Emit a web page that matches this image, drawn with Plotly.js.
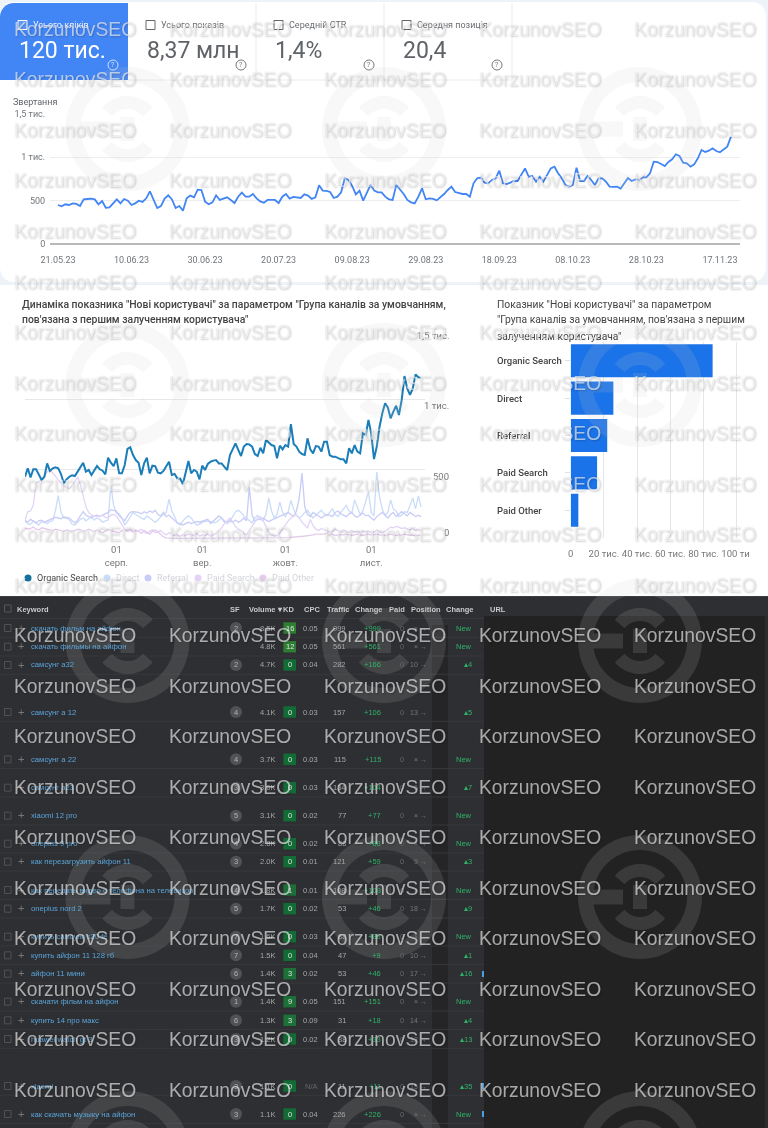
<!DOCTYPE html>
<html><head><meta charset="utf-8">
<script src="https://cdn.plot.ly/plotly-3.0.0.min.js"></script>
<style>html,body{margin:0;padding:0;background:#fff;overflow:hidden}#chart{width:768px;height:1128px;filter:blur(0.35px)}</style>
</head><body><div id="chart"></div>
<script>
// ---------- data ----------
const clicksStart = '2023-05-21';
const clicks = [450,435,458,450,469,462,438,515,519,523,515,458,496,419,423,469,515,469,519,500,450,469,500,485,527,608,515,415,438,523,562,515,415,438,385,527,558,539,627,623,489,458,481,562,508,527,539,508,473,546,592,546,546,577,527,492,477,508,508,508,473,
546,577,523,543,535,531,573,558,520,539,677,616,612,600,531,546,596,758,739,670,573,616,500,585,681,616,596,596,546,516,508,681,631,577,508,481,469,546,643,516,527,520,504,539,577,623,662,600,585,577,577,546,700,758,766,708,700,739,758,846,
700,692,708,727,727,796,873,777,785,719,777,719,796,873,892,816,758,681,662,681,881,727,727,785,739,681,758,758,719,662,658,662,639,700,762,727,746,739,769,769,816,950,946,923,900,946,977,1035,1015,939,931,892,919,989,1085,1062,1077,1104,1073,1058,1096,1123,1239];
const clickTickVals = ['2023-05-21','2023-06-10','2023-06-30','2023-07-20','2023-08-09','2023-08-29','2023-09-18','2023-10-08','2023-10-28','2023-11-17'];
const clickYTicks = [0,500,1000,1500];
const clickYLabels = ['0','500','1 тис.','1,5 тис.'];
const kpiLabels = ['Усього кліків','Усього показів','Середній CTR','Середня позиція'];
const kpiValues = ['120 тис.','8,37 млн','1,4%','20,4'];

const usersStart = '2023-06-29';
const organic = [445,505,440,498,498,462,421,445,540,486,505,512,505,464,398,426,445,455,450,481,510,545,481,493,457,493,521,498,488,462,581,545,521,576,469,469,529,643,655,600,564,545,457,540,581,469,524,521,474,469,486,520,552,457,464,433,433,391,469,557,469,493,481,426,524,493,536,552,560,564,540,540,515,493,600,636,683,636,593,660,679,676,660,607,593,652,612,707,688,671,664,576,667,640,671,660,821,679,660,624,607,600,719,640,612,664,660,624,695,695,600,588,588,580,569,569,540,648,612,671,624,612,755,743,850,755,571,660,802,898,969,940,862,910,952,886,993,1164,1076,1029,1076,1176,1155,1152];
const direct = [130,110,105,130,115,100,125,120,110,125,130,205,310,190,150,150,135,105,100,120,140,150,130,145,160,135,150,140,120,130,135,385,240,185,180,150,100,125,160,190,175,160,150,140,165,150,135,120,135,160,175,190,285,200,160,115,100,130,150,165,150,120,100,105,120,125,130,125,115,120,135,150,130,110,125,160,195,205,190,165,150,130,115,150,170,140,130,180,293,200,150,175,264,190,160,195,275,215,170,150,165,190,205,175,150,170,190,205,180,165,190,215,175,160,190,215,240,200,185,279,230,175,200,260,336,190,165,479,300,210,170,190,279,215,200,160,170,195,190,240,293,215,307,230];
const referral = [135,120,140,125,115,130,135,120,130,140,150,155,150,145,160,155,150,130,115,135,170,195,170,160,150,165,170,160,170,175,190,210,205,200,165,150,130,165,190,195,195,190,180,195,185,200,190,205,175,165,190,160,170,150,130,115,110,100,110,120,110,120,125,120,125,135,140,110,130,150,165,150,120,125,130,120,135,120,130,150,130,371,170,130,135,140,150,135,125,135,145,150,160,170,185,190,175,160,200,290,471,230,175,160,190,175,165,150,165,175,170,160,190,200,180,170,160,180,190,165,155,170,185,165,170,150,135,160,175,190,170,150,175,190,160,175,195,180,165,190,175,160,170,160];
const paidSearch = [135,195,200,240,400,410,430,450,480,493,470,450,421,400,380,370,360,380,410,443,390,300,230,190,170,165,160,165,170,155,150,170,175,165,130,100,70,60,70,60,55,60,70,50,40,55,65,45,50,60,40,30,45,35,25,30,20,30,25,35,30,25,40,20,30,25,35,20,30,40,60,80,110,130,150,120,90,70,60,40,30,60,90,120,150,160,130,90,50,30,20,25,40,70,100,130,150,165,170,150,120,100,80,140,95,70,60,75,65,60,50,55,70,60,50,65,55,45,60,50,55,45,60,50,55,45,50,65,55,45,55,70,85,80,90,85,75,80,70,65,80,60,70,55];
const paidOther = [80,70,75,85,70,65,80,75,70,65,60,70,65,60,55,65,60,55,60,70,65,55,60,70,60,55,65,50,45,60,70,60,55,50,45,60,70,55,60,50,65,55,40,60,50,35,55,65,50,30,15,8,5,5,5,5,5,5,5,5,5,5,8,5,5,5,5,5,8,5,5,5,5,8,5,5,5,5,5,5,5,8,5,5,8,5,8,5,5,5,5,8,8,10,10,10,12,15,15,18,18,20,22,25,30,35,35,30,35,40,30,35,25,30,28,30,35,30,25,30,35,30,25,30,35,28,30,35,30,28,25,30,35,30,25,30,28,35,30,25,30,25,28,25];
const seriesNames = ['Organic Search','Direct','Referral','Paid Search','Paid Other'];
const seriesColors = ['#1b7eb9','#c9dcf9','#c9ccf6','#e4d3f6','#e4cbee'];
const usersTickVals = ['2023-08-01','2023-09-01','2023-10-01','2023-11-01'];
const usersTickText = ['01<br>серп.','01<br>вер.','01<br>жовт.','01<br>лист.'];
const channelUsers = [85500,25700,22000,15900,4600];
const barTicks = [0,20000,40000,60000,80000,100000];
const barTickText = ['0','20 тис.','40 тис.','60 тис.','80 тис.','100 ти&nbsp;'];

const tableHeader = ['Keyword','SF','Volume ▾','KD','CPC','Traffic','Change','Paid','Position','Change','URL'];
const keywords = ['скачать фильм на айфон','скачать фильмы на айфон','самсунг а32','самсунг а 12','самсунг а 22','самсунг а23','xiaomi 12 pro','oneplus 9 pro','как перезагрузить айфон 11','как передать видео с телефона на телевизор','oneplus nord 2','купить самсунг s20 fe','купить айфон 11 128 гб','айфон 11 мини','скачати фільм на айфон','купить 14 про макс','huawei watch gt 3','xiaomi','как скачать музыку на айфон'];
const sf = ['2','','2','4','4','3','5','4','3','4','5','7','7','6','1','6','3','3','3'];
const volume = ['8.5K','4.8K','4.7K','4.1K','3.7K','3.6K','3.1K','2.8K','2.0K','1.8K','1.7K','1.6K','1.5K','1.4K','1.4K','1.3K','1.2K','1.1K','1.1K'];
const kd = [16,12,0,0,0,0,0,0,0,1,0,0,0,3,9,3,0,0,0];
const cpc = ['0.05','0.05','0.04','0.03','0.03','0.03','0.02','0.02','0.01','0.01','0.02','0.03','0.04','0.02','0.05','0.09','0.02','N/A','0.04'];
const traffic = ['999','561','282','157','115','134','77','88','121','108','53','88','47','53','151','31','38','11','226'];
const trafficChange = ['+999','+561','+166','+106','+115','+104','+77','+88','+59','+108','+46','+88','+9','+46','+151','+18','+33','+11','+226'];
const position = ['× →','× →','10 →','13 →','× →','6 →','× →','× →','9 →','× →','18 →','× →','10 →','17 →','× →','14 →','12 →','15 →','× →'];
const posChange = ['New','New','▴4','▴5','New','▴7','New','New','▴3','New','▴9','New','▴1','▴16','New','▴4','▴13','▴35','New'];
const rowY = [628,646.7,665,712,759.3,787.7,815.7,843.7,861.7,890,908.7,936.7,955.3,973.7,1001.7,1020.3,1039,1086,1114];

// ---------- helpers ----------
const W=768,H=1128;
const px=x=>x/W, py=y=>1-y/H;
const dom=(a,b)=>[px(a),px(b)], domY=(top,bot)=>[py(bot),py(top)];
const days=(start,n)=>{const o=[];const t=Date.parse(start+'T12:00:00Z');for(let i=0;i<n;i++){o.push(new Date(t+i*864e5).toISOString().slice(0,10));}return o;};
const annotations=[], shapes=[];
const R='Roboto, sans-serif', A='"Liberation Sans", Arial, sans-serif';
function txt(x,y,text,o={}){annotations.push({xref:'paper',yref:'paper',x:px(x),y:py(y),text,showarrow:false,xanchor:o.a||'left',yanchor:'middle',borderpad:0,
  font:{family:o.f||R,size:o.s||10,color:o.c||'#555',weight:o.w||400,shadow:o.sh||'none'}});}
function rect(x0,y0,x1,y1,fill,o={}){shapes.push({type:'rect',xref:'paper',yref:'paper',x0:px(x0),x1:px(x1),y0:py(y0),y1:py(y1),fillcolor:fill,line:{width:o.lw||0,color:o.lc||'rgba(0,0,0,0)'},layer:o.layer||'below'});}
function circ(cx,cy,r,fill,o={}){shapes.push({type:'circle',xref:'paper',yref:'paper',x0:px(cx-r),x1:px(cx+r),y0:py(cy-r),y1:py(cy+r),fillcolor:fill,line:{width:o.lw||0,color:o.lc||'rgba(0,0,0,0)'},layer:o.layer||'below'});}
function pathOf(pts){return pts.map((p,i)=>(i?'L':'M')+px(p[0]).toFixed(5)+','+py(p[1]).toFixed(5)).join(' ')+' Z';}
function arcPts(cx,cy,r,a0,a1,n){const o=[];for(let i=0;i<=n;i++){const a=(a0+(a1-a0)*i/n)*Math.PI/180;o.push([cx+r*Math.sin(a),cy-r*Math.cos(a)]);}return o;}
function roundRect(x0,y0,x1,y1,r,corners){
  const c=corners||[1,1,1,1],o=[];
  const add=(cx,cy,a0,a1,on,vx,vy)=>{if(on)o.push(...arcPts(cx,cy,r,a0,a1,8));else o.push([vx,vy]);};
  add(x0+r,y0+r,270,360,c[0],x0,y0);add(x1-r,y0+r,0,90,c[1],x1,y0);add(x1-r,y1-r,90,180,c[2],x1,y1);add(x0+r,y1-r,180,270,c[3],x0,y1);
  return pathOf(o);}
function pathShape(d,fill,o={}){shapes.push({type:'path',xref:'paper',yref:'paper',path:d,fillcolor:fill,line:{width:o.lw||0,color:o.lc||'rgba(0,0,0,0)'},layer:o.layer||'below'});}

// ---------- section backgrounds ----------
rect(0,0,768,285,'#eef2f9');
pathShape(roundRect(0,2,766,282,14),'#ffffff');
pathShape(roundRect(0,3,128,80,14,[1,0,0,0]),'#4285f4');
[[128,80,512,80],[256,3,256,80],[384,3,384,80],[512,3,512,80]].forEach(l=>shapes.push({type:'line',xref:'paper',yref:'paper',x0:px(l[0]),x1:px(l[2]),y0:py(l[1]),y1:py(l[3]),line:{color:'#ececec',width:1},layer:'below'}));
rect(0,596,768,1128,'#2e2f32');
rect(432,625,448,1128,'#252527');
rect(484,616,768,1128,'#222223');
rect(765,616,768,1128,'#2c2c2d');
rect(0,596,768,597,'#3c3d40');
shapes.push({type:'line',xref:'paper',yref:'paper',x0:0,x1:px(484),y0:py(618.5),y1:py(618.5),line:{color:'#38393c',width:1},layer:'below'});
rowY.forEach(y=>shapes.push({type:'line',xref:'paper',yref:'paper',x0:0,x1:px(484),y0:py(y+9.3),y1:py(y+9.3),line:{color:'#38393c',width:1},layer:'below'}));

// ---------- KPI tiles ----------
const tileX=[18,146,274,402];
kpiLabels.forEach((l,i)=>{
  const x=tileX[i],on=i===0,c=on?'#ffffff':'#5f6368';
  rect(x,20.5,x+9,29.5,on?'rgba(255,255,255,0.15)':'#fff',{lw:1,lc:on?'#fff':'#666',layer:'below'});
  txt(x+14,25,l,{s:9,c:on?'#eef3fe':'#6a6d71'});
  txt(x,50,kpiValues[i],{s:23,c,f:R});
  circ(x+95,65,5,'rgba(0,0,0,0)',{lw:1,lc:on?'#cfe0fc':'#777'});
  txt(x+95,65,'?',{s:7,c:on?'#cfe0fc':'#777',a:'center'});
});
txt(12,102,'Звертання',{s:9,c:'#5f6368'});

// ---------- titles ----------
txt(21,305,'Динаміка показника "Нові користувачі" за параметром "Група каналів за умовчанням,',{s:10.4,c:'#444',w:500});
txt(21,320,'пов\'язана з першим залученням користувача"',{s:10.4,c:'#444',w:500});
txt(496,305,'Показник "Нові користувачі" за параметром',{s:10.3,c:'#444'});
txt(496,320,'"Група каналів за умовчанням, пов\'язана з першим',{s:10.3,c:'#444'});
txt(496,336,'залученням користувача"',{s:10.3,c:'#444'});

// mid axis labels on the right
[[1500,335,'1,5 тис.'],[1000,405,'1 тис.'],[500,476,'500'],[0,533,'0']].forEach(v=>txt(450,v[1],v[2],{a:'right',s:9.5,c:'#777'}));
shapes.push({type:'line',xref:'paper',yref:'paper',x0:px(425),x1:px(447),y0:py(329),y1:py(329),line:{color:'#e6e6e6',width:1},layer:'below'});

// legend
const legX=[28,107,148,198,263];
seriesNames.forEach((n,i)=>{circ(legX[i],578,3.5,i?seriesColors[i]:'#14719f');txt(legX[i]+8,578,n,{s:9,c:i?'#d2d4da':'#444'});});

// bar category labels
seriesNames.forEach((n,i)=>annotations.push({xref:'paper',yref:'y3',x:px(496),y:n,text:n,showarrow:false,xanchor:'left',yanchor:'middle',borderpad:0,font:{family:R,size:9.5,color:'#444',weight:500}}));

// ---------- table ----------
const hdr=[[16,'left'],[234.7,'center'],[265.5,'center'],[288.7,'center'],[312,'center'],[338,'center'],[368.7,'center'],[397,'center'],[425.7,'center'],[460,'center'],[498,'center']];
rect(4.5,605,11,612,'rgba(0,0,0,0)',{lw:1,lc:'#55565a'});
tableHeader.forEach((h,i)=>txt(hdr[i][0],609,h,{f:A,s:7.5,c:'#c9cacc',w:700,a:hdr[i][1]}));
keywords.forEach((k,i)=>{
  const y=rowY[i];
  rect(4.5,y-3.5,11,y+3.5,'rgba(0,0,0,0)',{lw:1,lc:'#505154'});
  txt(20.7,y-0.3,'+',{f:A,s:11,c:'#77787b',a:'center'});
  txt(30,y,k,{f:A,s:7.7,c:'#5aa3d8'});
  if(sf[i]){circ(236,y,6,'#515256');txt(236,y,sf[i],{f:A,s:7.5,c:'#b4b5b7',a:'center'});}
  txt(276,y,volume[i],{f:A,s:7.5,c:'#a6a7a9',a:'right'});
  rect(283.4,y-5.7,296,y+5.7,kd[i]>=10?'#2f7d32':(kd[i]>0?'#1d7038':'#136c36'));
  txt(289.7,y,String(kd[i]),{f:A,s:7.5,c:'#dbe9df',a:'center'});
  txt(319,y,cpc[i],{f:A,s:7.5,c:cpc[i]==='N/A'?'#666':'#a6a7a9',a:'right'});
  txt(347,y,traffic[i],{f:A,s:7.5,c:'#a6a7a9',a:'right'});
  txt(381.7,y,trafficChange[i],{f:A,s:7.5,c:'#2fb26a',a:'right'});
  txt(401.7,y,'0',{f:A,s:7.5,c:'#66676a',a:'center'});
  txt(428,y,position[i],{f:A,s:7,c:'#77787b',a:'right'});
  txt(473,y,posChange[i],{f:A,s:7.5,c:'#2fb26a',a:'right'});
});
[[974,5],[1086,5],[1114,3]].forEach(m=>rect(482,m[0]-3,484,m[0]+3,'#4a9fe0'));

// ---------- watermark ----------
const markColor='rgba(205,205,205,0.14)';
[127.5,384,640].forEach(cx=>[129,385,641,897,1153].forEach(cy=>{
  const outer=arcPts(cx,cy,62,0,360,72), inner=arcPts(cx,cy,47,360,0,72);
  pathShape(pathOf(outer)+' '+pathOf(inner),markColor,{layer:'above'});
  [0,180].forEach(a=>pathShape(pathOf(arcPts(cx,cy,33,a-50,a+50,24).concat(arcPts(cx,cy,20,a+50,a-50,24))),markColor,{layer:'above'}));
  rect(cx-7,cy-12,cx+7,cy+12,markColor,{layer:'above'});
  rect(cx-47,cy-7.5,cx-17,cy+7.5,markColor,{layer:'above'});
}));
[12.5,167.5,322.5,477.5,632.5].forEach(x=>{for(let r=0;r<22;r++){
  txt(x,29.5+50.5*r,'KorzunovSEO',{f:A,s:19.3,c:'rgba(255,255,255,0.62)',sh:'1px 1px 2px rgba(0,0,0,0.28), 0 0 1px rgba(0,0,0,0.2)'});
}});

// ---------- traces ----------
const clickDays=days(clicksStart,clicks.length), userDays=days(usersStart,organic.length);
const pale=[[direct,1],[referral,2],[paidSearch,3],[paidOther,4]];
const traces=[
  {type:'scatter',mode:'lines',name:'Звертання',x:clickDays,y:clicks,xaxis:'x',yaxis:'y',line:{color:'#4285f4',width:1.8},hoverinfo:'skip'},
  ...pale.map(p=>({type:'scatter',mode:'lines',name:seriesNames[p[1]],x:userDays,y:p[0],xaxis:'x2',yaxis:'y2',line:{color:seriesColors[p[1]],width:1.3},hoverinfo:'skip'})),
  {type:'scatter',mode:'lines',name:seriesNames[0],x:userDays,y:organic,xaxis:'x2',yaxis:'y2',line:{color:seriesColors[0],width:2},hoverinfo:'skip'},
  {type:'bar',orientation:'h',name:'Нові користувачі',x:channelUsers,y:seriesNames,xaxis:'x3',yaxis:'y3',marker:{color:'#1a73e8'},hoverinfo:'skip'}
];
const layout={
  width:W,height:H,margin:{l:0,r:0,t:0,b:0},autosize:false,showlegend:false,
  paper_bgcolor:'#ffffff',plot_bgcolor:'rgba(0,0,0,0)',bargap:0.115,
  xaxis:{type:'date',domain:dom(50,740),anchor:'y',range:['2023-05-18 20:00','2023-11-22 11:00'],tickvals:clickTickVals,tickformat:'%d.%m.%y',showgrid:false,zeroline:false,ticks:'outside',ticklen:7,tickcolor:'rgba(0,0,0,0)',tickfont:{family:R,size:9,color:'#70757a'}},
  yaxis:{domain:domY(114,244),anchor:'x',range:[0,1500],tickvals:clickYTicks,ticktext:clickYLabels,gridcolor:'#eeeeee',gridwidth:1,zeroline:true,zerolinecolor:'#b9b9b9',zerolinewidth:1.5,ticks:'outside',ticklen:2,tickcolor:'rgba(0,0,0,0)',tickfont:{family:R,size:9,color:'#70757a'}},
  xaxis2:{type:'date',domain:dom(25,425),anchor:'y2',range:['2023-06-29 00:00','2023-11-20 10:00'],tickvals:usersTickVals,ticktext:usersTickText,showgrid:false,zeroline:false,ticks:'outside',ticklen:2,tickcolor:'rgba(0,0,0,0)',tickfont:{family:R,size:9.5,color:'#777'}},
  yaxis2:{domain:domY(329,539),anchor:'x2',range:[0,1500],tickvals:[0,500,1000,1500],showticklabels:false,gridcolor:'#e8e8e8',zeroline:false,ticks:''},
  xaxis3:{domain:dom(570.7,741),anchor:'y3',range:[0,102590],tickvals:barTicks,ticktext:barTickText,gridcolor:'#e6e6e6',zeroline:false,ticks:'outside',ticklen:7,tickcolor:'rgba(0,0,0,0)',tickfont:{family:R,size:9.5,color:'#777'}},
  yaxis3:{domain:domY(342,538),anchor:'x3',type:'category',categoryorder:'array',categoryarray:seriesNames,range:[4.74,-0.5],showticklabels:false,ticks:'outside',ticklen:5,tickcolor:'#e0e0e0',showgrid:false,zeroline:false},
  annotations,shapes
};
Plotly.newPlot('chart',traces,layout,{staticPlot:true,displayModeBar:false});
</script></body></html>
